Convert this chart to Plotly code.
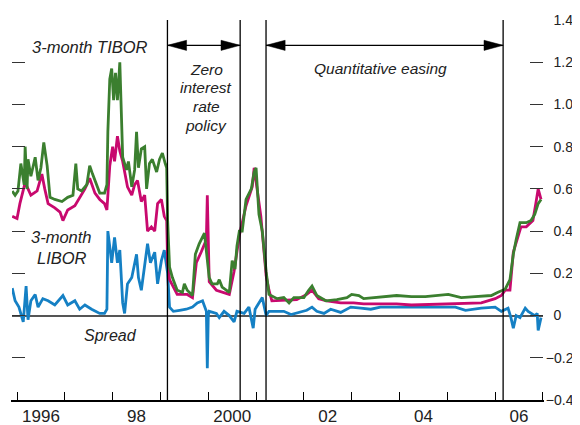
import plotly.graph_objects as go

# ---- data (decimal years) ----
tibor_t = [1995.90, 1995.96, 1996.02, 1996.08, 1996.15, 1996.17, 1996.21, 1996.23, 1996.29, 1996.38,
           1996.44, 1996.50, 1996.56, 1996.63, 1996.69, 1996.79, 1996.94, 1997.06, 1997.17, 1997.23,
           1997.27, 1997.35, 1997.46, 1997.52, 1997.58, 1997.69, 1997.73, 1997.83, 1997.88, 1997.90,
           1997.94, 1997.98, 1998.02, 1998.06, 1998.10, 1998.15, 1998.17, 1998.21, 1998.29, 1998.33,
           1998.40, 1998.46, 1998.50, 1998.54, 1998.60, 1998.67, 1998.71, 1998.77, 1998.83, 1998.92,
           1998.98, 1999.04, 1999.10, 1999.13, 1999.15, 1999.19, 1999.25, 1999.35, 1999.46, 1999.50,
           1999.56, 1999.67, 1999.73, 1999.81, 1999.92, 1999.96, 2000.02, 2000.08, 2000.19, 2000.23,
           2000.29, 2000.44, 2000.50, 2000.56, 2000.60, 2000.65, 2000.71, 2000.79, 2000.90, 2000.96,
           2001.00, 2001.06, 2001.13, 2001.21, 2001.27, 2001.31, 2001.44, 2001.58, 2001.69, 2001.79,
           2002.00, 2002.10, 2002.17, 2002.27, 2002.46, 2002.69, 2002.90, 2003.00, 2003.15, 2003.25,
           2003.46, 2003.67, 2003.94, 2004.25, 2004.54, 2005.02, 2005.29, 2005.58, 2005.92, 2006.06,
           2006.21, 2006.31, 2006.38, 2006.44, 2006.52, 2006.65, 2006.75, 2006.83, 2006.90, 2006.96]
tibor = [0.59, 0.57, 0.59, 0.72, 0.62, 0.80, 0.60, 0.74, 0.66, 0.75,
         0.64, 0.70, 0.82, 0.71, 0.56, 0.55, 0.54, 0.56, 0.57, 0.72,
         0.60, 0.59, 0.62, 0.71, 0.67, 0.60, 0.58, 0.58, 0.62, 0.87,
         1.12, 1.17, 1.02, 1.15, 1.02, 1.20, 1.05, 0.75, 0.69, 0.73,
         0.61, 0.69, 0.87, 0.70, 0.79, 0.80, 0.60, 0.72, 0.74, 0.68,
         0.74, 0.77, 0.72, 0.70, 0.45, 0.23, 0.18, 0.12, 0.11, 0.15,
         0.12, 0.095, 0.29, 0.34, 0.39, 0.29, 0.18, 0.15, 0.15, 0.17,
         0.135, 0.11, 0.26, 0.22, 0.33, 0.40, 0.40, 0.55, 0.60, 0.68,
         0.70, 0.48, 0.40, 0.21, 0.10, 0.095, 0.08, 0.085, 0.06, 0.085,
         0.085, 0.12, 0.14, 0.095, 0.07, 0.075, 0.085, 0.10, 0.095, 0.08,
         0.085, 0.09, 0.095, 0.09, 0.09, 0.10, 0.085, 0.09, 0.095, 0.11,
         0.125, 0.17, 0.29, 0.36, 0.44, 0.44, 0.45, 0.48, 0.53, 0.55]

libor_t = [1995.90, 1996.00, 1996.06, 1996.17, 1996.23, 1996.29, 1996.42, 1996.52, 1996.58, 1996.65,
           1996.79, 1996.90, 1996.96, 1997.06, 1997.21, 1997.42, 1997.52, 1997.63, 1997.73, 1997.83,
           1997.88, 1997.94, 1998.00, 1998.04, 1998.10, 1998.15, 1998.21, 1998.31, 1998.40, 1998.46,
           1998.52, 1998.60, 1998.67, 1998.73, 1998.81, 1998.88, 1998.94, 1999.02, 1999.08, 1999.13,
           1999.15, 1999.19, 1999.35, 1999.56, 1999.67, 1999.75, 1999.85, 1999.96, 1999.98, 2000.00,
           2000.02, 2000.17, 2000.44, 2000.54, 2000.65, 2000.79, 2000.92, 2000.96, 2001.02, 2001.10,
           2001.21, 2001.27, 2001.33, 2001.85, 2002.06, 2002.17, 2002.31, 2002.48, 2002.77, 2003.04,
           2003.25, 2003.60, 2003.94, 2004.25, 2005.02, 2005.71, 2006.00, 2006.13, 2006.21, 2006.31,
           2006.38, 2006.48, 2006.54, 2006.65, 2006.79, 2006.85, 2006.90, 2006.96]
libor = [0.47, 0.46, 0.53, 0.63, 0.60, 0.57, 0.59, 0.67, 0.60, 0.53,
         0.51, 0.49, 0.45, 0.50, 0.52, 0.60, 0.65, 0.58, 0.55, 0.53,
         0.50, 0.71, 0.80, 0.73, 0.85, 0.78, 0.73, 0.61, 0.57, 0.62,
         0.64, 0.54, 0.57, 0.40, 0.42, 0.40, 0.53, 0.55, 0.47, 0.45,
         0.25, 0.17, 0.10, 0.10, 0.085, 0.25, 0.30, 0.36, 0.57, 0.30,
         0.16, 0.12, 0.10, 0.21, 0.38, 0.52, 0.61, 0.70, 0.60, 0.47,
         0.19, 0.12, 0.07, 0.075, 0.10, 0.12, 0.08, 0.07, 0.06, 0.06,
         0.055, 0.055, 0.055, 0.05, 0.055, 0.06, 0.08, 0.095, 0.12, 0.12,
         0.30, 0.37, 0.42, 0.42, 0.45, 0.53, 0.60, 0.55]

spread_t = [1995.90, 1995.96, 1996.04, 1996.13, 1996.19, 1996.23, 1996.29, 1996.38, 1996.44, 1996.54,
            1996.65, 1996.79, 1996.96, 1997.06, 1997.21, 1997.31, 1997.42, 1997.56, 1997.73, 1997.83,
            1997.88, 1997.90, 1997.98, 1998.04, 1998.10, 1998.15, 1998.21, 1998.25, 1998.31, 1998.40,
            1998.50, 1998.54, 1998.60, 1998.67, 1998.73, 1998.79, 1998.88, 1998.94, 1999.02, 1999.08,
            1999.15, 1999.19, 1999.27, 1999.40, 1999.54, 1999.67, 1999.77, 1999.88, 1999.96, 1999.98,
            2000.00, 2000.02, 2000.17, 2000.23, 2000.33, 2000.44, 2000.54, 2000.60, 2000.75, 2000.85,
            2000.94, 2000.98, 2001.06, 2001.13, 2001.21, 2001.27, 2001.38, 2001.58, 2001.73, 2001.94,
            2002.06, 2002.17, 2002.27, 2002.42, 2002.56, 2002.77, 2002.98, 2003.19, 2003.40, 2003.60,
            2003.94, 2004.40, 2004.92, 2005.17, 2005.38, 2005.71, 2006.00, 2006.13, 2006.27, 2006.33,
            2006.38, 2006.44, 2006.52, 2006.63, 2006.69, 2006.83, 2006.88, 2006.90, 2006.96]
spread = [0.13, 0.07, 0.04, -0.03, 0.14, -0.02, 0.07, 0.10, 0.04, 0.08,
          0.07, 0.05, 0.095, 0.05, 0.07, 0.03, 0.05, 0.03, 0.01, 0.01,
          0.03, 0.40, 0.25, 0.37, 0.25, 0.31, 0.06, 0.01, 0.15, 0.18,
          0.29, 0.18, 0.12, 0.23, 0.34, 0.25, 0.30, 0.15, 0.26, 0.31,
          0.20, 0.04, 0.02, 0.025, 0.03, 0.04, 0.06, 0.07, 0.02, -0.25,
          0.0, 0.02, 0.01, -0.01, 0.02, 0.0, -0.03, 0.02, 0.01, 0.04,
          -0.06, 0.03, 0.06, 0.085, 0.0, 0.02, 0.02, 0.02, 0.005, 0.02,
          0.025, 0.04, 0.02, 0.01, 0.03, 0.015, 0.04, 0.035, 0.03, 0.04,
          0.04, 0.04, 0.04, 0.04, 0.025, 0.035, 0.04, 0.02, 0.035, -0.01,
          -0.06, 0.0, -0.01, 0.035, 0.02, 0.0, 0.01, -0.07, -0.01]

policy_dates = [1999.146, 2000.667, 2001.208, 2006.167]  # ZIRP start/end, QE start/end
year_ticks = [1996.5, 1998.5, 2000.5, 2002.5, 2004.5, 2006.5]
year_labels = ["1996", "98", "2000", "02", "04", "06"]
y_ticks = [-0.4, -0.2, 0, 0.2, 0.4, 0.6, 0.8, 1.0, 1.2, 1.4]
y_labels = ["\u22120.4", "\u22120.2", "\u20070", "\u20070.2", "\u20070.4", "\u20070.6",
            "\u20070.8", "\u20071.0", "\u20071.2", "\u20071.4"]

FONT = "Liberation Sans, Arial, sans-serif"
GREEN = "#3b7f2f"
MAGENTA = "#c8096e"
BLUE = "#1580c4"

fig = go.Figure()
fig.add_trace(go.Scatter(x=spread_t, y=spread, mode="lines", line=dict(color=BLUE, width=2.8), name="Spread"))
fig.add_trace(go.Scatter(x=libor_t, y=libor, mode="lines", line=dict(color=MAGENTA, width=2.8), name="3-month LIBOR"))
fig.add_trace(go.Scatter(x=tibor_t, y=tibor, mode="lines", line=dict(color=GREEN, width=2.8), name="3-month TIBOR"))

# vertical policy lines
for d in policy_dates:
    fig.add_shape(type="line", x0=d, x1=d, y0=-0.4, y1=1.4, xref="x", yref="y",
                  line=dict(color="black", width=1.3), layer="above")

# double-headed arrows
ARROW_Y = 1.28
HEAD_L = 0.40   # years
HEAD_H = 0.024  # value units (half height)
for a, b in [(policy_dates[0], policy_dates[1]), (policy_dates[2], policy_dates[3])]:
    fig.add_shape(type="line", x0=a, x1=b, y0=ARROW_Y, y1=ARROW_Y, xref="x", yref="y",
                  line=dict(color="black", width=1.3))
    fig.add_shape(type="path", xref="x", yref="y",
                  path=f"M {a},{ARROW_Y} L {a+HEAD_L},{ARROW_Y+HEAD_H} L {a+HEAD_L},{ARROW_Y-HEAD_H} Z",
                  fillcolor="black", line=dict(color="black", width=0.5))
    fig.add_shape(type="path", xref="x", yref="y",
                  path=f"M {b},{ARROW_Y} L {b-HEAD_L},{ARROW_Y+HEAD_H} L {b-HEAD_L},{ARROW_Y-HEAD_H} Z",
                  fillcolor="black", line=dict(color="black", width=0.5))

def label(text, x, y, size=16):
    fig.add_annotation(x=x, y=y, xref="x", yref="y", text=f"<i>{text}</i>", showarrow=False,
                       font=dict(family=FONT, size=size, color="#222"), xanchor="center", yanchor="middle")

label("3-month TIBOR", 1997.52, 1.27, 16.5)
label("Zero", 1999.96, 1.165, 15.5)
label("interest", 1999.96, 1.078, 15.5)
label("rate", 1999.96, 0.988, 15.5)
label("policy", 1999.96, 0.898, 15.5)
label("Quantitative easing", 2003.60, 1.17, 15.5)
label("3-month", 1996.92, 0.37, 16.5)
label("LIBOR", 1996.94, 0.275, 16.5)
label("Spread", 1997.96, -0.095, 16)

# the page places the figure 8px in from the top-left corner; size and margins compensate
fig.update_layout(
    width=572, height=417,
    margin=dict(l=4, r=37, t=12, b=25),
    paper_bgcolor="white", plot_bgcolor="white",
    showlegend=False,
    font=dict(family=FONT, size=16.5, color="#222"),
    xaxis=dict(range=[1995.895, 2007.001], tickvals=year_ticks, ticktext=year_labels,
               ticks="", showgrid=False, zeroline=False, automargin=False,
               showline=True, linecolor="black", linewidth=1.5,
               minor=dict(tick0=1996, dtick=1, ticks="inside", ticklen=8, tickcolor="black", tickwidth=1.2),
               tickfont=dict(family=FONT, size=17, color="#222")),
    yaxis=dict(range=[-0.4, 1.4], side="right", tickvals=y_ticks, ticktext=y_labels,
               ticks="inside", ticklen=13, tickcolor="#333", tickwidth=1.3,
               mirror="ticks", showline=True, linecolor="rgba(0,0,0,0)", automargin=False,
               showgrid=False, zeroline=True, zerolinecolor="#555", zerolinewidth=1.6,
               ticklabelstandoff=-1,
               tickfont=dict(family=FONT, size=14, color="#222")),
)

fig.write_html("out.html")
